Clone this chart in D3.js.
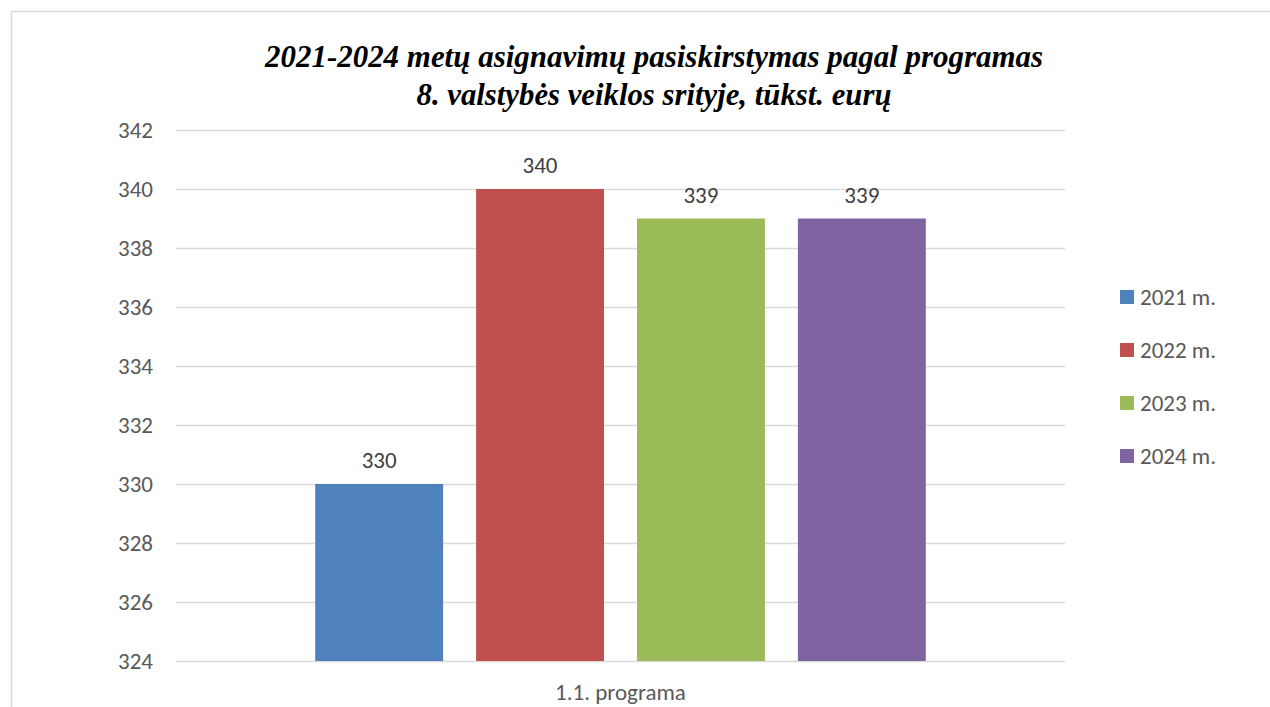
<!DOCTYPE html>
<html>
<head>
<meta charset="utf-8">
<script src="https://cdn.jsdelivr.net/npm/d3@7"></script>
<style>
  body { margin: 0; background: #fff; }
  text { font-family: Carlito, "Open Sans", "Liberation Sans", sans-serif; }
</style>
</head>
<body>
<div id="chart"></div>
<script>
// Data
var category = '1.1. programa';
var seriesNames = ['2021 m.', '2022 m.', '2023 m.', '2024 m.'];
var seriesValues = [330, 340, 339, 339];
var seriesColors = ['#4f81bd', '#c0504d', '#9bbb59', '#8064a2'];
var yTicks = [324, 326, 328, 330, 332, 334, 336, 338, 340, 342];
var titleLines = ['2021-2024 metų asignavimų pasiskirstymas pagal programas',
                  '8. valstybės veiklos srityje, tūkst. eurų'];

var width = 1270;
var height = 707;
var plotLeft = 176, plotRight = 1065, plotTop = 130, plotBottom = 661;

var svg = d3.select('#chart').append('svg')
  .attr('width', width)
  .attr('height', height);

// chart border
svg.append('rect')
  .attr('x', 11.5).attr('y', 11.5)
  .attr('width', width).attr('height', height)
  .attr('fill', 'none')
  .attr('stroke', '#d9d9d9')
  .attr('stroke-width', 1.5);

// title
var titleWidths = [778, 475];
svg.selectAll('.title')
  .data(titleLines)
  .enter().append('text')
  .attr('class', 'title')
  .attr('x', 654)
  .attr('y', function(d, i) { return 67 + i * 38; })
  .attr('text-anchor', 'middle')
  .attr('textLength', function(d, i) { return titleWidths[i]; })
  .attr('lengthAdjust', 'spacingAndGlyphs')
  .style('font-family', '"Liberation Serif", "DejaVu Serif", serif')
  .style('font-weight', 'bold')
  .style('font-style', 'italic')
  .style('font-size', '32px')
  .style('fill', '#000')
  .text(function(d) { return d; });

var y = d3.scaleLinear()
  .domain([324, 342])
  .range([plotBottom, plotTop]);

var x0 = d3.scaleBand()
  .domain([category])
  .range([plotLeft, plotRight])
  .paddingInner(0)
  .paddingOuter(0.157);

var x1 = d3.scaleBand()
  .domain(seriesNames)
  .range([0, x0.bandwidth()])
  .padding(0.205);

// gridlines + y labels
var yAxis = d3.axisLeft(y)
  .tickValues(yTicks)
  .tickSize(-(plotRight - plotLeft))
  .tickPadding(23);

var gy = svg.append('g')
  .attr('transform', 'translate(' + plotLeft + ',0)')
  .call(yAxis);
gy.select('.domain').remove();
gy.selectAll('.tick line')
  .attr('stroke', '#d9d9d9')
  .attr('stroke-width', 1.5);
gy.selectAll('.tick text')
  .style('font-size', '23px')
  .style('fill', '#595959')
  .style('font-family', 'Carlito, "Open Sans", "Liberation Sans", sans-serif');

// bars
var gBars = svg.append('g')
  .attr('transform', 'translate(' + x0(category) + ',0)');

gBars.selectAll('rect')
  .data(seriesValues)
  .enter().append('rect')
  .attr('x', function(d, i) { return x1(seriesNames[i]); })
  .attr('y', function(d) { return y(d); })
  .attr('width', x1.bandwidth())
  .attr('height', function(d) { return y(324) - y(d); })
  .attr('fill', function(d, i) { return seriesColors[i]; });

gBars.selectAll('.val')
  .data(seriesValues)
  .enter().append('text')
  .attr('class', 'val')
  .attr('x', function(d, i) { return x1(seriesNames[i]) + x1.bandwidth() / 2; })
  .attr('y', function(d) { return y(d) - 16; })
  .attr('text-anchor', 'middle')
  .style('font-size', '23px')
  .style('fill', '#404040')
  .text(function(d) { return d; });

// x category label
svg.append('text')
  .attr('x', (plotLeft + plotRight) / 2)
  .attr('y', 700)
  .attr('text-anchor', 'middle')
  .style('font-size', '23px')
  .style('fill', '#595959')
  .text(category);

// legend
var legend = svg.selectAll('.legend')
  .data(seriesNames)
  .enter().append('g')
  .attr('class', 'legend')
  .attr('transform', function(d, i) { return 'translate(1120,' + (297 + i * 53) + ')'; });

legend.append('rect')
  .attr('x', 0).attr('y', -7)
  .attr('width', 14).attr('height', 14)
  .attr('fill', function(d, i) { return seriesColors[i]; });

legend.append('text')
  .attr('x', 20)
  .attr('y', 8)
  .style('font-size', '23px')
  .style('fill', '#595959')
  .text(function(d) { return d; });
</script>
</body>
</html>
